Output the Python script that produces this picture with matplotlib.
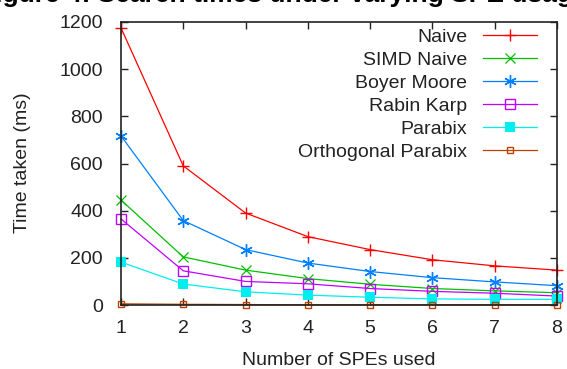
import matplotlib
matplotlib.use("Agg")
import matplotlib.pyplot as plt

plt.rcParams['font.family'] = ['Liberation Sans', 'DejaVu Sans']

spes = [1, 2, 3, 4, 5, 6, 7, 8]
naive = [1175, 590, 390, 290, 235, 192, 166, 148]
simd_naive = [445, 204, 148, 112, 88, 70, 60, 52]
boyer_moore = [717, 358, 235, 178, 142, 116, 98, 82]
rabin_karp = [365, 145, 100, 90, 70, 58, 50, 38]
parabix = [182, 89, 56, 42, 33, 26, 24, 24]
orth_parabix = [5, 3, 2, 1, 1, 1, 1, 1]

labels = ["Naive", "SIMD Naive", "Boyer Moore", "Rabin Karp", "Parabix", "Orthogonal Parabix"]
colors = ["#ff0000", "#00c000", "#0080ff", "#c000ff", "#00eeee", "#c04000"]

fig = plt.figure(figsize=(5.67, 3.69), dpi=100)
ax = fig.add_axes([0.2134, 0.1734, 0.7686, 0.767])

series = [naive, simd_naive, boyer_moore, rabin_karp, parabix, orth_parabix]
styles = [
    dict(marker='+', ms=9, mew=1.0),
    dict(marker='x', ms=7, mew=0.9),
    dict(marker=(6, 2, 0), ms=9, mew=1.0),
    dict(marker='s', ms=7, mfc='none', mew=1.0),
    dict(marker='s', ms=6.5, mew=0),
    dict(marker='s', ms=4, mfc='none', mew=1.0),
]
for vals, lab, c, st in zip(series, labels, colors, styles):
    ax.plot(spes, vals, color=c, lw=0.9, label=lab, clip_on=False, **st)

ax.set_xlim(1, 8)
ax.set_ylim(0, 1200)
ax.set_xticks(spes)
ax.set_yticks(range(0, 1201, 200))
ax.tick_params(direction='in', top=True, right=True, length=5, width=1,
               labelsize=14, colors='#222222')
ax.tick_params(axis='y', pad=13)
ax.tick_params(axis='x', pad=11)
for s in ax.spines.values():
    s.set_linewidth(1.2)
    s.set_color('#222222')

leg = ax.legend(loc='upper right', bbox_to_anchor=(0.955, 0.978), frameon=False,
                markerfirst=False, fontsize=14, handlelength=2.8, labelspacing=0.28,
                borderaxespad=0, handletextpad=0.8, borderpad=0)
for t in leg.get_texts():
    t.set_ha('right')
    t.set_color('#222222')
leg._legend_box.align = 'right'

fig.text(0.039, 0.56, "Time taken (ms)", rotation=90, ha='center', va='center',
         fontsize=14, color='#222222')
fig.text(0.597, 0.022, "Number of SPEs used", ha='center', va='center',
         fontsize=14, color='#222222')
fig.text(0.5, 0.995, "Figure 4: Search times under varying SPE usage",
         ha='center', va='baseline', fontsize=19, fontweight='bold')

fig.savefig("out.png", dpi=100)
